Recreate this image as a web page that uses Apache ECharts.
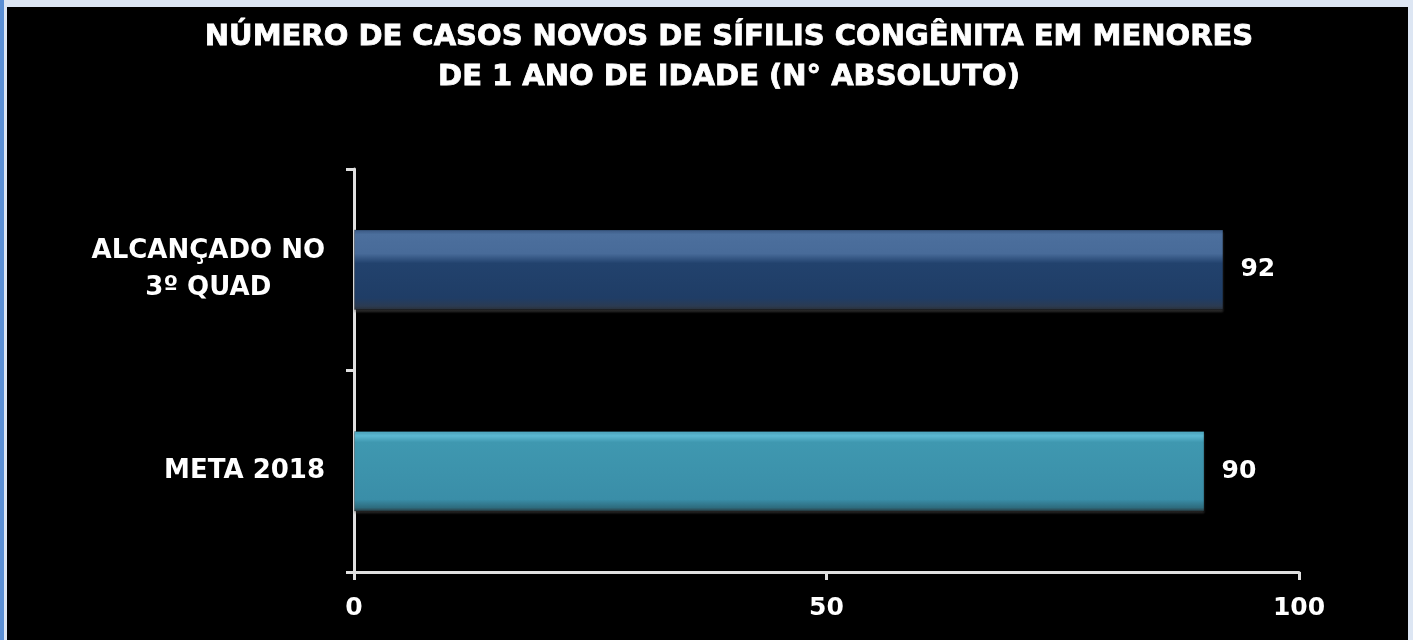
<!DOCTYPE html>
<html>
<head>
<meta charset="utf-8">
<script src="https://cdn.jsdelivr.net/npm/echarts@6/dist/echarts.min.js"></script>
<style>
html,body{margin:0;padding:0;width:1413px;height:640px;overflow:hidden;background:#dde6f3;}
#strip{position:absolute;left:0;top:0;width:4px;height:640px;background:#5b8fd4;}
#chart{position:absolute;left:7px;top:7px;width:1401px;height:633px;background:#000;}
</style>
</head>
<body>
<div id="strip"></div>
<div id="chart"></div>
<script>
const titleText = 'NÚMERO DE CASOS NOVOS DE SÍFILIS CONGÊNITA EM MENORES\nDE 1 ANO DE IDADE (N° ABSOLUTO)';
const categories = ['META 2018', 'ALCANÇADO NO\n3º QUAD'];
const values = [90, 92];
const xTicks = [0, 50, 100];

const FONT = 'DejaVu Sans, Verdana, sans-serif';

const gradBlue = new echarts.graphic.LinearGradient(0, 0, 0, 1, [
  {offset: 0, color: '#385a87'},
  {offset: 0.06, color: '#4c6f9d'},
  {offset: 0.3, color: '#486b99'},
  {offset: 0.42, color: '#22426d'},
  {offset: 0.85, color: '#1f3d66'},
  {offset: 0.95, color: '#2b3b52'},
  {offset: 1, color: '#2a2f36'}
]);
const gradTeal = new echarts.graphic.LinearGradient(0, 0, 0, 1, [
  {offset: 0, color: '#4aa6c0'},
  {offset: 0.06, color: '#5cbad3'},
  {offset: 0.14, color: '#3f98b0'},
  {offset: 0.85, color: '#3a8ea8'},
  {offset: 0.95, color: '#2e6c7e'},
  {offset: 1, color: '#2a3a40'}
]);
const barColors = [gradTeal, gradBlue];

const chart = echarts.init(document.getElementById('chart'));
chart.setOption({
  backgroundColor: '#000',
  animation: false,
  title: {
    text: titleText,
    left: 717,
    textAlign: 'center',
    top: 5,
    textStyle: {
      color: '#fff',
      fontFamily: FONT,
      fontWeight: 'bold',
      fontSize: 29,
      lineHeight: 40,
      textBorderColor: '#fff',
      textBorderWidth: 0.8
    }
  },
  grid: {left: 347, right: 109, top: 162, bottom: 68, containLabel: false},
  xAxis: {
    type: 'value',
    min: 0, max: 100, interval: 50,
    splitLine: {show: false},
    axisLine: {show: true, lineStyle: {color: '#e0e0e0', width: 3}},
    axisTick: {show: true, length: 8, lineStyle: {color: '#e0e0e0', width: 3}},
    axisLabel: {
      color: '#fff', fontFamily: FONT,
      fontWeight: 'bold', fontSize: 25, margin: 24,
      formatter: v => xTicks.includes(v) ? String(v) : ''
    }
  },
  yAxis: {
    type: 'category',
    data: categories,
    axisLine: {show: true, lineStyle: {color: '#e0e0e0', width: 3}},
    axisTick: {show: true, length: 8, interval: 0, lineStyle: {color: '#e0e0e0', width: 3}},
    axisLabel: {
      color: '#fff', margin: 29, align: 'right',
      formatter: v => v.split('\n').map(s => '{c|' + s + '}').join('\n'),
      rich: {
        c: {
          color: '#fff', fontFamily: FONT, fontWeight: 'bold', fontSize: 26,
          lineHeight: 37, align: 'center'
        }
      }
    }
  },
  series: [{
    type: 'bar',
    data: values.map((v, i) => ({value: v, itemStyle: {color: barColors[i]}})),
    barWidth: '40%',
    itemStyle: {borderColor: 'rgba(0,0,0,0.25)', borderWidth: 1, shadowColor: 'rgba(80,80,80,0.5)', shadowOffsetY: 2, shadowBlur: 2},
    label: {
      show: true, position: 'right', distance: 17,
      color: '#fff', fontFamily: FONT,
      fontWeight: 'bold', fontSize: 25
    }
  }]
});
</script>
</body>
</html>
